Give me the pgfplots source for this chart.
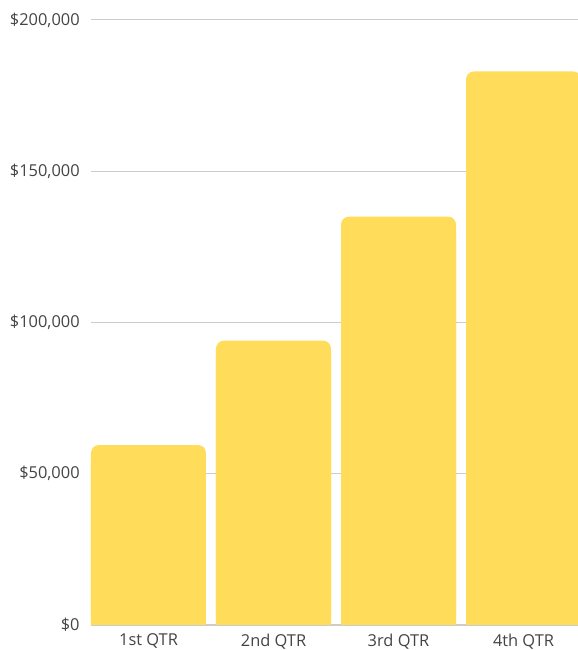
\documentclass[border=0pt]{standalone}
\usepackage{pgfplots}
\pgfplotsset{compat=1.18}
\usepackage{fontspec}
\setmainfont{Open Sans}
\definecolor{baryellow}{HTML}{FFDC5A}
\definecolor{gridgrey}{HTML}{CCCCCC}
\definecolor{labelgrey}{HTML}{444444}

\begin{document}
\begin{tikzpicture}
% page frame: 578 x 650 px at 0.75pt per px
\path[use as bounding box] (-68.25pt,-18.75pt) rectangle (365.25pt,468.75pt);
\begin{axis}[
    scale only axis,
    width=365.25pt,
    height=453.75pt,
    ybar,
    bar width=0.92,
    xmin=-0.46, xmax=3.436,
    ymin=0, ymax=200000,
    scaled y ticks=false,
    xtick={0,1,2,3},
    xticklabels={1st QTR,2nd QTR,3rd QTR,4th QTR},
    ytick={0,50000,100000,150000,200000},
    yticklabels={{\$0},{\$50,000},{\$100,000},{\$150,000},{\$200,000}},
    tick label style={font=\fontsize{12.3}{14}\selectfont, text=labelgrey},
    yticklabel style={xshift=-5pt},
    xticklabel style={yshift=-3pt},
    major tick length=0pt,
    axis line style={draw=none},
    ymajorgrids=true,
    major grid style={draw=gridgrey, line width=0.75pt},
    extra y ticks={0},
    extra y tick labels={},
    extra y tick style={grid style={draw=gridgrey!50!black, line width=0.75pt}},
    clip=true,
]
% square bottom part of each bar
\addplot+[ybar, bar shift=0pt, fill=baryellow, draw=none,
          y filter/.expression={y-5000}] coordinates {
    (0,59500) (1,94000) (2,135000) (3,183000)
};
% full bar with rounded top corners
\addplot+[ybar, bar shift=0pt, fill=baryellow, draw=none,
          rounded corners=6pt] coordinates {
    (0,59500) (1,94000) (2,135000) (3,183000)
};
\end{axis}
\end{tikzpicture}
\end{document}
